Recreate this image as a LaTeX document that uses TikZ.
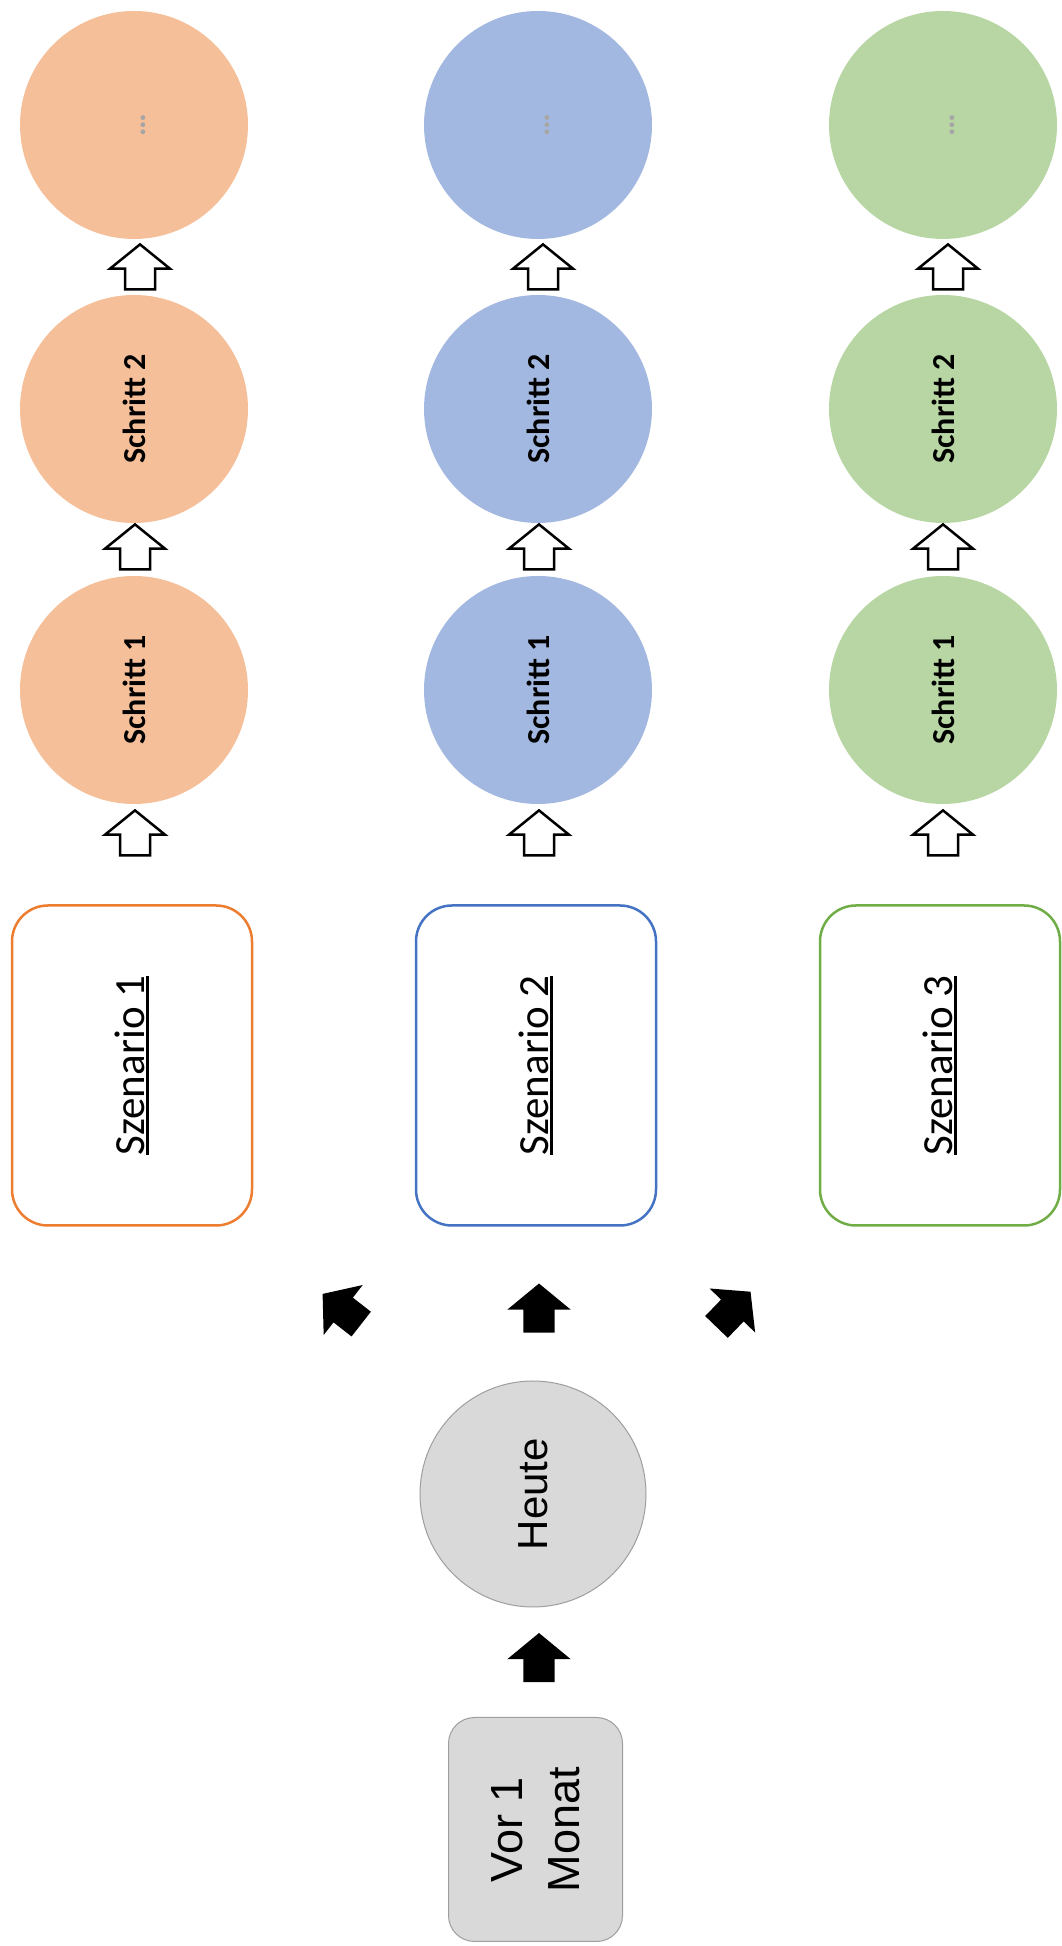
\documentclass[tikz,border=0pt]{standalone}
\usepackage{fontspec}
\setmainfont{Carlito}
\newfontfamily\arialfont{Liberation Sans}
\usepackage{tikz}
\definecolor{peach}{rgb}{0.96, 0.75, 0.60}
\definecolor{softblue}{rgb}{0.64, 0.72, 0.88}
\definecolor{softgreen}{rgb}{0.72, 0.84, 0.64}
\definecolor{szorange}{rgb}{0.93, 0.49, 0.19}
\definecolor{szblue}{rgb}{0.27, 0.45, 0.77}
\definecolor{szgreen}{rgb}{0.44, 0.68, 0.28}
\definecolor{greyfill}{rgb}{0.85, 0.85, 0.85}
\definecolor{greyline}{rgb}{0.62, 0.62, 0.62}
\definecolor{dotgrey}{rgb}{0.65, 0.65, 0.65}
\usetikzlibrary{shapes.arrows}

\newcommand{\szul}[1]{\setbox0\hbox{#1}\rlap{\rule[-4pt]{\wd0}{3pt}}\box0}
\newcommand{\moredots}{{\fontsize{32}{38}\selectfont\color{dotgrey}\raisebox{-4pt}{\dots}\strut}}

\tikzset{
  stepcirc/.style={circle, minimum size=228pt, inner sep=0pt, rotate=90,
    font=\fontsize{32}{36}\selectfont\bfseries},
  szbox/.style={draw, line width=2.5pt, rounded corners=36pt, minimum width=320pt,
    minimum height=240pt, rotate=90, font=\fontsize{43}{50}\selectfont},
  hollowup/.style={single arrow, draw, line width=2.5pt, fill=white,
    inner sep=13.75pt, minimum height=45pt,
    single arrow head extend=15pt, single arrow tip angle=102, shape border rotate=90},
  solidup/.style={single arrow, fill=black, inner sep=15.5pt,
    minimum height=49pt, single arrow head extend=16pt,
    single arrow tip angle=101, shape border rotate=90},
  greynode/.style={fill=greyfill, draw=greyline, line width=1pt, rotate=90,
    font=\arialfont\fontsize{42}{57}\selectfont}
}

\begin{document}
\begin{tikzpicture}[x=1pt, y=1pt]
        \useasboundingbox (0,0) rectangle (1062,1946);

        % Szenario 1
        \node[stepcirc, fill=peach] (o3) at (134,1821) {\moredots};
        \node[stepcirc, fill=peach] (o2) at (134,1537) {Schritt 2};
        \node[stepcirc, fill=peach] (o1) at (134,1256) {Schritt 1};
        \node[szbox, draw=szorange] (sz1) at (132,880.5) {\szul{Szenario 1}};

        % Szenario 2
        \node[stepcirc, fill=softblue] (b3) at (538,1821) {\moredots};
        \node[stepcirc, fill=softblue] (b2) at (538,1537) {Schritt 2};
        \node[stepcirc, fill=softblue] (b1) at (538,1256) {Schritt 1};
        \node[szbox, draw=szblue] (sz2) at (536,880.5) {\szul{Szenario 2}};

        % Szenario 3
        \node[stepcirc, fill=softgreen] (g3) at (943,1821) {\moredots};
        \node[stepcirc, fill=softgreen] (g2) at (943,1537) {Schritt 2};
        \node[stepcirc, fill=softgreen] (g1) at (943,1256) {Schritt 1};
        \node[szbox, draw=szgreen] (sz3) at (940,880.5) {\szul{Szenario 3}};

        % Ausgangslage
        \node[greynode, circle, minimum size=226pt, inner sep=0pt] (heute) at (533,452) {Heute};
        \node[greynode, rounded corners=26pt, minimum width=224pt, minimum height=174pt,
          align=center, font=\arialfont\fontsize{45}{57}\selectfont] (vor) at (535.5,116.5) {Vor 1\\Monat};

        % Pfeile
        \node[hollowup] (o23) at (140,1673) {};
        \node[hollowup] (o12) at (135,1393) {};
        \node[hollowup] (sz1o) at (135,1107) {};
        \node[hollowup] (b23) at (543,1673) {};
        \node[hollowup] (b12) at (539,1393) {};
        \node[hollowup] (sz2b) at (539,1107) {};
        \node[hollowup] (g23) at (948,1673) {};
        \node[hollowup] (g12) at (943,1393) {};
        \node[hollowup] (sz3g) at (943,1107) {};

        \node[solidup, rotate=52] (hsz1) at (347,633) {};
        \node[solidup] (hsz2) at (539,631.5) {};
        \node[solidup, rotate=-44] (hsz3) at (729,632) {};
        \node[solidup] (vorh) at (539,282) {};

    \end{tikzpicture}
\end{document}
